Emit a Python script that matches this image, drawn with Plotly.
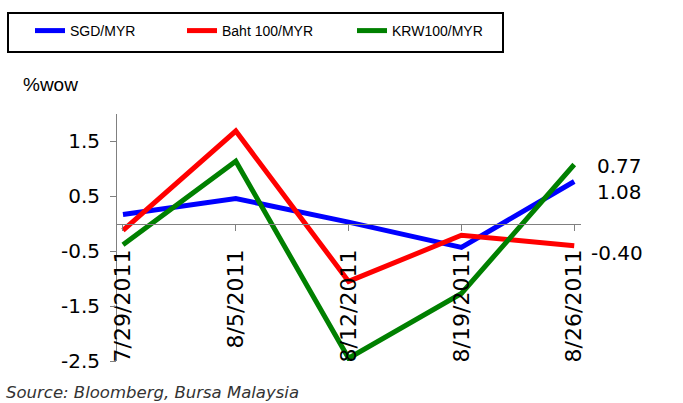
import plotly.graph_objects as go

dates = ["7/29/2011", "8/5/2011", "8/12/2011", "8/19/2011", "8/26/2011"]
sgd = [0.17, 0.46, 0.03, -0.43, 0.77]
baht = [-0.12, 1.69, -1.05, -0.21, -0.40]
krw = [-0.38, 1.14, -2.45, -1.27, 1.08]
series_names = ["SGD/MYR", "Baht 100/MYR", "KRW100/MYR"]
series_colors = ["#0000FF", "#FF0000", "#008000"]
end_labels = ["0.77", "1.08", "-0.40"]
y_ticks = [-2.5, -1.5, -0.5, 0.5, 1.5]

W, H = 683, 403
L, R, T, B = 117, 102, 114, 42
pw, ph = W - L - R, H - T - B

def px_x(x):
    return (x - L) / pw

def px_y(y):
    return 1 - (y - T) / ph

SANS = "Liberation Sans, Arial"

fig = go.Figure()
legends = ["legend", "legend2", "legend3"]
for vals, name, col, lg in zip([sgd, baht, krw], series_names, series_colors, legends):
    fig.add_trace(go.Scatter(x=dates, y=vals, mode="lines", name=name,
                             line=dict(color=col, width=5), legend=lg))

legend_left = [30, 182, 352]
leg = {}
for lg, lx in zip(legends, legend_left):
    leg[lg] = dict(x=px_x(lx), y=px_y(31), xanchor="left", yanchor="middle",
                   orientation="h", bgcolor="rgba(0,0,0,0)", borderwidth=0,
                   font=dict(family=SANS, size=14, color="black"),
                   itemwidth=30)

annotations = [
    dict(text="%wow", xref="paper", yref="paper", x=px_x(21), y=px_y(84),
         xanchor="left", yanchor="middle", showarrow=False,
         font=dict(family=SANS, size=19, color="black")),
    dict(text="Source: Bloomberg, Bursa Malaysia", xref="paper", yref="paper",
         x=px_x(4), y=px_y(392), xanchor="left", yanchor="middle", showarrow=False,
         font=dict(family="DejaVu Sans", size=16.5, color="#333333", style="italic")),
]
label_pos = [(595, 166), (595, 192), (589, 253)]
for t, (lx, ly) in zip(end_labels, label_pos):
    annotations.append(dict(text=t, xref="paper", yref="paper", x=px_x(lx), y=px_y(ly),
                            xanchor="left", yanchor="middle", showarrow=False,
                            font=dict(family="DejaVu Sans", size=20, color="black")))

fig.update_layout(
    width=W, height=H,
    margin=dict(l=L, r=R, t=T, b=B, autoexpand=False),
    paper_bgcolor="white", plot_bgcolor="white",
    showlegend=True,
    **leg,
    annotations=annotations,
    shapes=[dict(type="rect", xref="paper", yref="paper",
                 x0=px_x(8), x1=px_x(503), y0=px_y(52), y1=px_y(13),
                 line=dict(color="black", width=2))],
    xaxis=dict(type="category", range=[-0.053, 4.06], anchor="free",
               position=2.5 / 4.5, showline=True, linecolor="#808080", linewidth=1,
               ticks="outside", ticklen=6, tickcolor="#808080", tickangle=-90,
               ticklabelstandoff=10,
               showgrid=False, zeroline=False, automargin=False,
               tickfont=dict(family="DejaVu Sans", size=22, color="black")),
    yaxis=dict(range=[-2.5, 2.0], tickvals=y_ticks, ticktext=[str(v) for v in y_ticks],
               showline=True, linecolor="#808080", linewidth=1,
               ticks="outside", ticklen=6, tickcolor="#808080",
               ticklabelstandoff=6,
               showgrid=False, zeroline=False, automargin=False,
               tickfont=dict(family="DejaVu Sans", size=20, color="black")),
)

fig.write_html("out.html", config={"displayModeBar": False},
               post_script="document.body.style.margin='0';document.body.style.overflow='hidden';")
